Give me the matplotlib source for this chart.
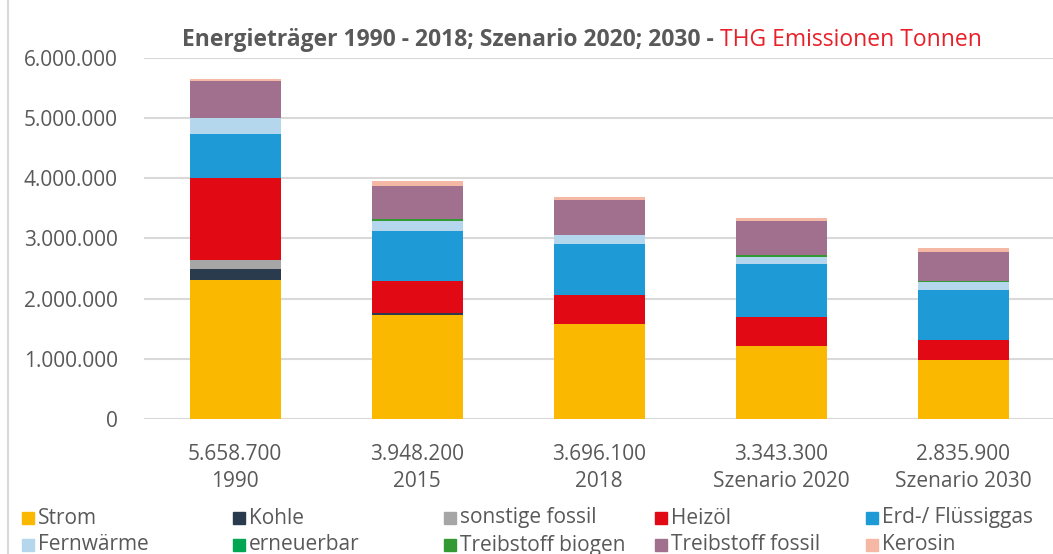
import matplotlib
matplotlib.use("Agg")
import matplotlib.pyplot as plt
from matplotlib.patches import Rectangle
from matplotlib.lines import Line2D
import numpy as np

plt.rcParams['font.family'] = ['Open Sans', 'DejaVu Sans']

# Daten (Tonnen CO2-Äquivalent)
jahre = ['1990', '2015', '2018', 'Szenario 2020', 'Szenario 2030']
summen = ['5.658.700', '3.948.200', '3.696.100', '3.343.300', '2.835.900']
traeger = ['Strom', 'Kohle', 'sonstige fossil', 'Heizöl', 'Erd-/ Flüssiggas',
           'Fernwärme', 'erneuerbar', 'Treibstoff biogen', 'Treibstoff fossil', 'Kerosin']
strom = [2310000, 1727000, 1573000, 1213000, 975000]
kohle = [180000, 40000, 0, 0, 0]
sonstige = [160000, 0, 0, 0, 0]
heizoel = [1350000, 530000, 490000, 490000, 345000]
erdgas = [740000, 830000, 850000, 875000, 830000]
fernwaerme = [270000, 165000, 150000, 120000, 120000]
erneuerbar = [0, 0, 0, 0, 0]
biogen = [0, 25000, 0, 20000, 20000]
treib_fossil = [600000, 560000, 570000, 565000, 480000]
kerosin = [48700, 71200, 63100, 60300, 65900]
farben = ['#FAB800', '#2A3B4E', '#A6A6A6', '#E10A14', '#1E9BD7',
          '#B4D7EE', '#00A651', '#339933', '#A0708E', '#F5B8A4']

reihen = [strom, kohle, sonstige, heizoel, erdgas, fernwaerme,
          erneuerbar, biogen, treib_fossil, kerosin]

fig = plt.figure(figsize=(10.53, 5.54), dpi=100)
ax = fig.add_axes([144 / 1053, (554 - 419) / 554, 910 / 1053, 361 / 554])

x = np.arange(len(jahre))
unten = np.zeros(len(jahre))
for werte, farbe, name in zip(reihen, farben, traeger):
    ax.bar(x, werte, width=0.5, bottom=unten, color=farbe, label=name)
    unten += np.array(werte)

ax.set_xlim(-0.5, 4.5)
ax.set_ylim(0, 6000000)
ax.set_yticks(range(0, 6000001, 1000000))
ax.set_yticklabels(['0' if v == 0 else f'{v:,}'.replace(',', '.') for v in range(0, 6000001, 1000000)])
ax.set_xticks(x)
ax.set_xticklabels([f'{s}\n{j}' for s, j in zip(summen, jahre)], linespacing=1.35)
ax.tick_params(axis='both', length=0, labelsize=15, colors='#595959')
ax.tick_params(axis='y', pad=19)
ax.tick_params(axis='x', pad=18)
ax.grid(axis='y', color='#D9D9D9', linewidth=1.5)
ax.set_axisbelow(True)
for s in ax.spines.values():
    s.set_visible(False)

# Titel zweifarbig
t1 = fig.text(0.5, (554 - 40) / 554, 'Energieträger 1990 - 2018; Szenario 2020; 2030 - ',
              fontsize=16.5, fontweight='bold', color='#595959', va='center', ha='left')
t2 = fig.text(0.5, (554 - 40) / 554, 'THG Emissionen Tonnen',
              fontsize=16.5, color='#E8202A', va='center', ha='left')
fig.canvas.draw()
r = fig.canvas.get_renderer()
w1 = t1.get_window_extent(r).width
w2 = t2.get_window_extent(r).width
start = 582 - (w1 + w2) / 2
t1.set_x(start / 1053)
t2.set_x((start + w1) / 1053)

# Legende, Excel-artig in festen Spalten
for i, (name, farbe) in enumerate(zip(traeger, farben)):
    spalte, zeile = i % 5, i // 5
    px = 22 + 211 * spalte
    py = 518 + 27 * zeile
    fig.patches.append(Rectangle((px / 1053, (554 - py - 6) / 554), 12 / 1053, 12 / 554,
                                 transform=fig.transFigure, color=farbe))
    fig.text((px + 16) / 1053, (554 - py) / 554, name, fontsize=15,
             color='#595959', va='center', ha='left')

# Rahmen links
fig.lines.append(Line2D([8 / 1053, 8 / 1053], [0, 1], transform=fig.transFigure,
                        color='#D9D9D9', linewidth=1.5))

fig.savefig('out.png', dpi=100)
